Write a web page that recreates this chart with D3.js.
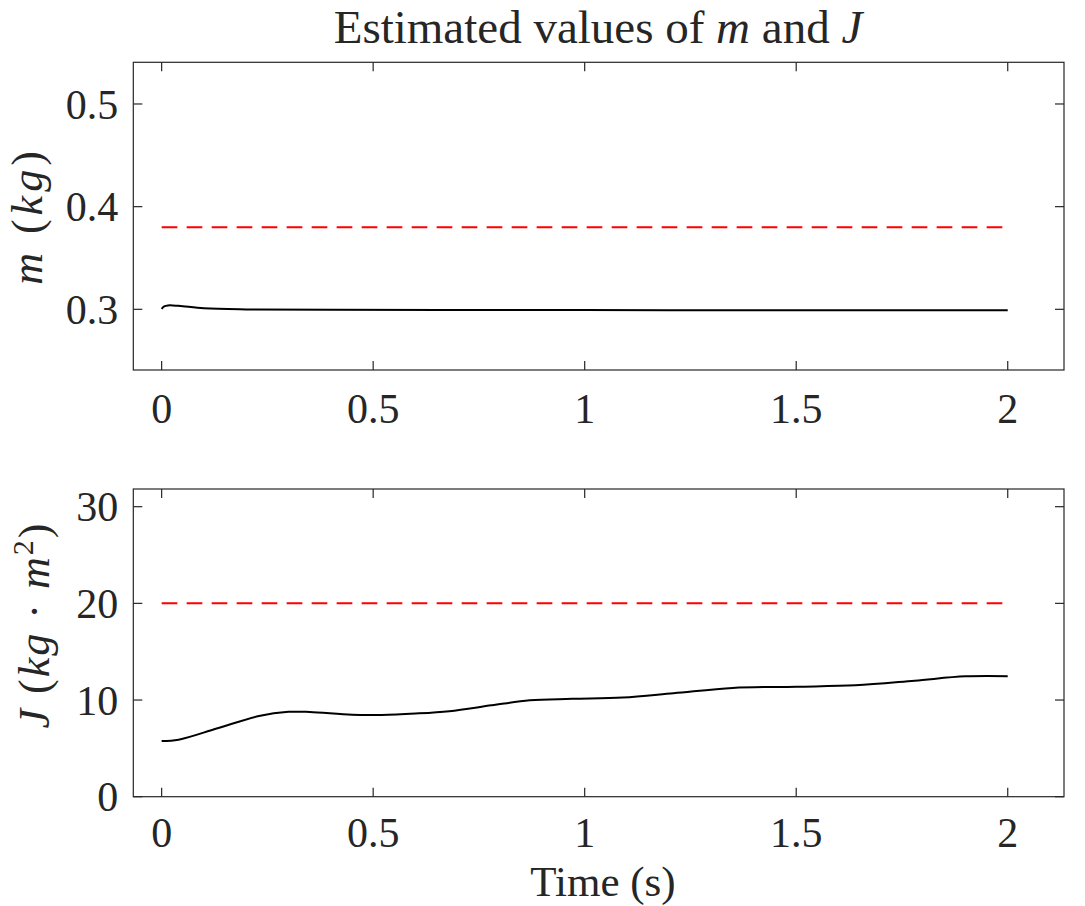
<!DOCTYPE html>
<html>
<head>
<meta charset="utf-8">
<script src="https://cdn.jsdelivr.net/npm/d3@7"></script>
<style>
  body { margin: 0; background: #fff; }
  svg { display: block; }
  text { font-family: "Liberation Serif", Tinos, "Times New Roman", Times, "DejaVu Serif", serif; fill: #262626; }
  .it { font-style: italic; }
</style>
</head>
<body>
<svg id="chart" width="1085" height="906"></svg>
<script>
// time samples
var mTime = [0, 0.006, 0.015, 0.04, 0.1, 0.2, 0.4, 0.8, 1.2, 1.6, 2.0];
var mValues = [0.3005, 0.3028, 0.3038, 0.3034, 0.3010, 0.2999, 0.2995, 0.2993, 0.2992, 0.2992, 0.2991];
var mTrue = 0.38;

var jTime = [0, 0.04, 0.13, 0.23, 0.30, 0.35, 0.45, 0.52, 0.60, 0.68, 0.78, 0.87, 0.97, 1.09, 1.21, 1.35, 1.50, 1.64, 1.78, 1.90, 2.0];
var jValues = [5.76, 5.9, 7.05, 8.35, 8.78, 8.76, 8.47, 8.45, 8.6, 8.85, 9.45, 9.98, 10.12, 10.25, 10.7, 11.25, 11.38, 11.52, 12.0, 12.45, 12.47];
var jTrue = 20;

var xTicks = [0, 0.5, 1, 1.5, 2];
var mTicks = [0.3, 0.4, 0.5];
var jTicks = [0, 10, 20, 30];

var svg = d3.select("#chart");
var axisColor = "#262626";

var left = 133.3, right = 1064;
var x = d3.scaleLinear().domain([-0.067, 2.133]).range([left, right]);

function panel(top, bottom, yDomain, yTicks, yFmt, times, values, trueVal, labelGap) {
    var y = d3.scaleLinear().domain(yDomain).range([bottom, top]);
    var g = svg.append("g");

    // red dashed reference
    g.append("line")
        .attr("x1", x(0)).attr("x2", x(2))
        .attr("y1", y(trueVal)).attr("y2", y(trueVal))
        .attr("stroke", "#ff0000")
        .attr("stroke-width", 2)
        .attr("stroke-dasharray", "15.7,9.3");

    // estimate
    var line = d3.line()
        .x(function(d, i) { return x(times[i]); })
        .y(function(d) { return y(d); })
        .curve(d3.curveCatmullRom.alpha(0.5));
    g.append("path")
        .datum(values)
        .attr("d", line)
        .attr("fill", "none")
        .attr("stroke", "#000")
        .attr("stroke-width", 2);

    // box
    g.append("rect")
        .attr("x", left).attr("y", top)
        .attr("width", right - left).attr("height", bottom - top)
        .attr("fill", "none")
        .attr("stroke", axisColor)
        .attr("stroke-width", 1.2);

    var tickLen = 9;
    xTicks.forEach(function(t) {
        g.append("line").attr("x1", x(t)).attr("x2", x(t))
            .attr("y1", bottom).attr("y2", bottom - tickLen)
            .attr("stroke", axisColor).attr("stroke-width", 1.2);
        g.append("line").attr("x1", x(t)).attr("x2", x(t))
            .attr("y1", top).attr("y2", top + tickLen)
            .attr("stroke", axisColor).attr("stroke-width", 1.2);
        g.append("text")
            .attr("x", x(t)).attr("y", bottom + labelGap)
            .attr("text-anchor", "middle")
            .attr("font-size", 42)
            .text(d3.format("")(t));
    });
    yTicks.forEach(function(v) {
        g.append("line").attr("x1", left).attr("x2", left + tickLen)
            .attr("y1", y(v)).attr("y2", y(v))
            .attr("stroke", axisColor).attr("stroke-width", 1.2);
        g.append("line").attr("x1", right).attr("x2", right - tickLen)
            .attr("y1", y(v)).attr("y2", y(v))
            .attr("stroke", axisColor).attr("stroke-width", 1.2);
        g.append("text")
            .attr("x", left - 15).attr("y", y(v))
            .attr("dy", "0.35em")
            .attr("text-anchor", "end")
            .attr("font-size", 42)
            .text(yFmt(v));
    });
    return g;
}

panel(62.3, 370, [0.2409, 0.5406], mTicks, d3.format(".1f"), mTime, mValues, mTrue, 53);
panel(489, 796.7, [0, 31.83], jTicks, d3.format("d"), jTime, jValues, jTrue, 50);

// title
var title = svg.append("text")
    .attr("x", 598).attr("y", 43)
    .attr("text-anchor", "middle")
    .attr("font-size", 47);
title.append("tspan").text("Estimated values of ");
title.append("tspan").attr("class", "it").text("m");
title.append("tspan").text(" and ");
title.append("tspan").attr("class", "it").text("J");

// y labels
var mLabel = svg.append("text")
    .attr("transform", "translate(42,216) rotate(-90)")
    .attr("text-anchor", "middle")
    .attr("font-size", 44)
    .attr("letter-spacing", 4);
mLabel.append("tspan").attr("class", "it").text("m");
mLabel.append("tspan").text(" (");
mLabel.append("tspan").attr("class", "it").text("kg");
mLabel.append("tspan").text(")");

var jLabel = svg.append("text")
    .attr("transform", "translate(49,625) rotate(-90)")
    .attr("text-anchor", "middle")
    .attr("font-size", 44)
    .attr("letter-spacing", 2);
jLabel.append("tspan").attr("class", "it").text("J");
jLabel.append("tspan").text(" (");
jLabel.append("tspan").attr("class", "it").text("kg");
jLabel.append("tspan").text(" \u00b7 ");
jLabel.append("tspan").attr("class", "it").text("m");
jLabel.append("tspan").attr("font-size", 30).attr("dy", -16).text("2");
jLabel.append("tspan").attr("dy", 16).text(")");

// x label
svg.append("text")
    .attr("x", 603).attr("y", 896)
    .attr("text-anchor", "middle")
    .attr("font-size", 43)
    .text("Time (s)");
</script>
</body>
</html>
